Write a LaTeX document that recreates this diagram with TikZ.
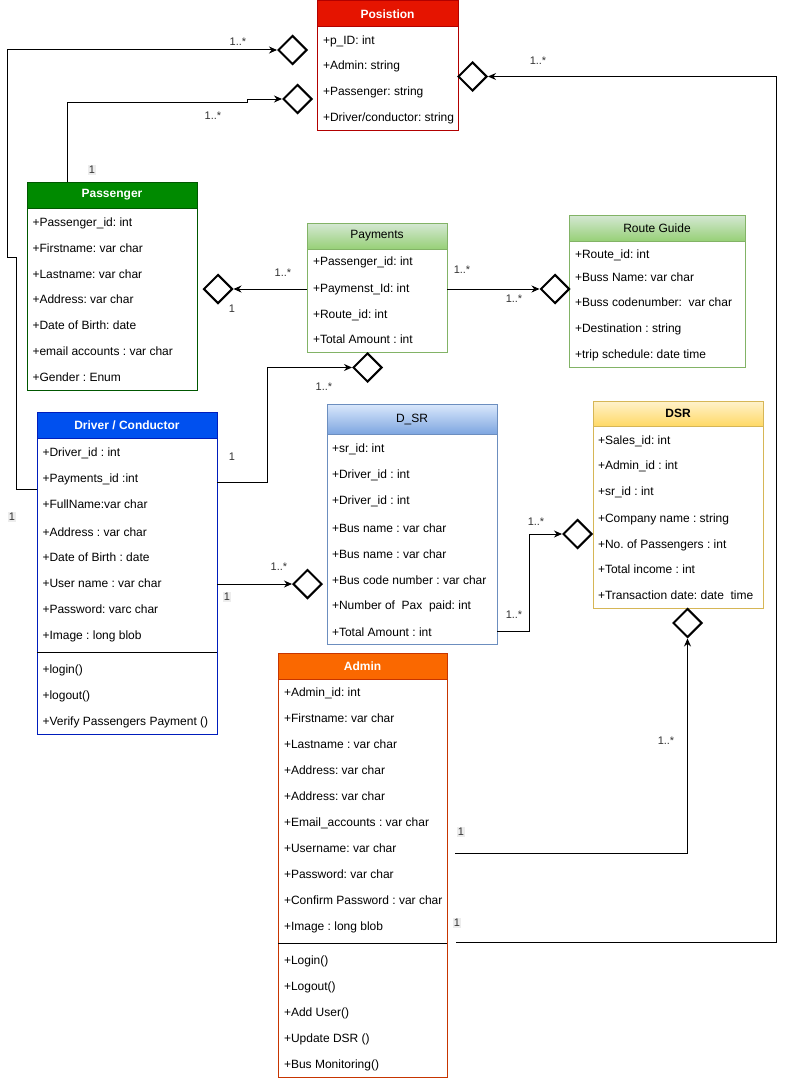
\documentclass[tikz,border=0pt]{standalone}
\usepackage{fontspec}
\setmainfont{Liberation Sans}
\usetikzlibrary{arrows.meta,shapes.geometric}

\definecolor{posfill}{HTML}{E51400}\definecolor{posline}{HTML}{B20000}
\definecolor{pasfill}{HTML}{008A00}\definecolor{pasline}{HTML}{005700}
\definecolor{drvfill}{HTML}{0050EF}\definecolor{drvline}{HTML}{001DBC}
\definecolor{admfill}{HTML}{FA6800}\definecolor{admline}{HTML}{C73500}
\definecolor{grntop}{HTML}{D5E8D4}\definecolor{grnbot}{HTML}{97D077}\definecolor{grnline}{HTML}{82B366}
\definecolor{blutop}{HTML}{DAE8FC}\definecolor{blubot}{HTML}{7EA6E0}\definecolor{bluline}{HTML}{6C8EBF}
\definecolor{yeltop}{HTML}{FFF2CC}\definecolor{yelbot}{HTML}{FFD966}\definecolor{yelline}{HTML}{D6B656}
\definecolor{lbl}{HTML}{333333}\definecolor{lblbg}{HTML}{EDEDED}

\tikzset{
  classbody/.style={draw, fill=white, line width=1pt, inner sep=0pt, outer sep=0pt, anchor=north west},
  classhead/.style={draw, line width=1pt, inner sep=0pt, outer sep=0pt, anchor=north west,
    font=\fontsize{12}{14}\selectfont},
  hsolid/.style={fill=#1, text=white, font=\fontsize{12}{14}\selectfont\bfseries},
  hshade/.style 2 args={top color=#1, bottom color=#2, text=black},
  attr/.style={anchor=west, inner sep=0pt, outer sep=0pt, text height=8.6pt, text depth=0pt,
    font=\fontsize{12}{14}\selectfont},
  agg/.style={diamond, draw, line width=2pt, fill=white, minimum width=29pt, minimum height=29pt,
    inner sep=0pt, aspect=1},
  conn/.style={line width=1pt, -{Stealth[length=8pt,width=7pt]}},
  link/.style={line width=1pt},
  mult/.style={text=lbl, font=\fontsize{11}{13}\selectfont, inner sep=1pt},
  multbg/.style={mult, fill=lblbg},
}

% class box: name, x1, y1, x2, y2, header bottom, outline colour, header style, title
\newcommand\umlclass[9]{%
  \node[classbody, draw=#7, minimum width={#4-#2}, minimum height={#5-#3}] (#1) at (#2,#3) {};
  \node[classhead, draw=#7, #8, minimum width={#4-#2}, minimum height={#6-#3}] (#1-head) at (#2,#3) {#9};
}
% attribute / method rows: name prefix, text x, list of y/text
\newcommand\umlrows[3]{%
  \foreach \yy/\txt [count=\k] in {#3} {\node[attr] (#1-r\k) at (#2,\yy) {\txt};}
}

\begin{document}
\frenchspacing
\begin{tikzpicture}[x=1pt,y=-1pt]
\useasboundingbox (0,0) rectangle (786,1081);
\fill[white] (0,0) rectangle (786,1081);

% ---------- classes ----------
\umlclass{pos}{317}{1}{458}{130}{27}{posline}{hsolid=posfill}{Posistion}
\umlrows{pos}{323}{40/{+p\_ID: int}, 65.5/{+Admin: string}, 91/{+Passenger: string},
  117/{+Driver/conductor: string}}

\umlclass{pas}{27}{182}{197}{390}{208}{pasline}{hsolid=pasfill}{Passenger}
\umlrows{pas}{32.5}{222/{+Passenger\_id: int}, 248/{+Firstname: var char}, 274/{+Lastname: var char},
  299.5/{+Address: var char}, 325/{+Date of Birth: date}, 351.5/{+email accounts : var char},
  377/{+Gender : Enum}}

\umlclass{pay}{307}{223}{447}{352}{249}{grnline}{hshade={grntop}{grnbot}}{Payments}
\umlrows{pay}{313}{261/{+Passenger\_id: int}, 288/{+Paymenst\_Id: int}, 314/{+Route\_id: int},
  339.5/{+Total Amount : int}}

\umlclass{rou}{569}{215}{745}{367}{241}{grnline}{hshade={grntop}{grnbot}}{Route Guide}
\umlrows{rou}{575}{254.5/{+Route\_id: int}, 277/{+Buss Name: var char},
  302/{+Buss codenumber:~ var char}, 328/{+Destination : string}, 354/{+trip schedule: date time}}

\umlclass{drv}{37}{412}{217}{734}{438}{drvline}{hsolid=drvfill}{Driver / Conductor}
\umlrows{drv}{42.5}{452/{+Driver\_id : int}, 478/{+Payments\_id :int}, 504/{+FullName:var char},
  532/{+Address : var char}, 557.5/{+Date of Birth : date}, 583.5/{+User name : var char},
  609.5/{+Password: varc char}, 635.5/{+Image : long blob}, 669/{+login()}, 695/{+logout()},
  721.5/{+Verify Passengers Payment ()}}
\draw[link] (drv.west |- 0,652) -- (drv.east |- 0,652);

\umlclass{dsl}{327}{404}{497}{644}{434}{bluline}{hshade={blutop}{blubot}}{D\_SR}
\umlrows{dsl}{332}{448/{+sr\_id: int}, 474/{+Driver\_id : int}, 500/{+Driver\_id : int},
  528/{+Bus name : var char}, 554/{+Bus name : var char}, 580/{+Bus code number : var char},
  605.5/{+Number of~ Pax~ paid: int}, 632/{+Total Amount : int}}

\umlclass{dsr}{593}{401}{763}{608}{426}{yelline}{hshade={yeltop}{yelbot}, font=\fontsize{12}{14}\selectfont\bfseries}{DSR}
\umlrows{dsr}{598}{440/{+Sales\_id: int}, 465.5/{+Admin\_id : int}, 491.5/{+sr\_id : int},
  518/{+Company name : string}, 544/{+No. of Passengers : int}, 569.5/{+Total income : int},
  595.5/{+Transaction date: date~ time}}

\umlclass{adm}{278}{653}{447}{1077}{679}{admline}{hsolid=admfill}{Admin}
\umlrows{adm}{284}{692/{+Admin\_id: int}, 718/{+Firstname: var char}, 744/{+Lastname : var char},
  770/{+Address: var char}, 796/{+Address: var char}, 822/{+Email\_accounts : var char},
  848/{+Username: var char}, 874/{+Password: var char}, 900/{+Confirm Password : var char},
  926.5/{+Image : long blob}, 960.5/{+Login()}, 986.5/{+Logout()}, 1012/{+Add User()},
  1038/{+Update DSR ()}, 1064/{+Bus Monitoring()}}
\draw[link] (adm.west |- 0,943) -- (adm.east |- 0,943);

% ---------- aggregation diamonds ----------
\node[agg] (dP1) at (292.5,50) {};
\node[agg] (dP2) at (297.5,99) {};
\node[agg] (dP3) at (472.5,76.5) {};
\node[agg] (dPas) at (218,289) {};
\node[agg] (dRou) at (555,289) {};
\node[agg] (dPay) at (367.5,367.5) {};
\node[agg] (dDsl) at (307.5,584) {};
\node[agg] (dDsr) at (577.5,534) {};
\node[agg] (dDsr3) at (687.5,623) {};

% ---------- connectors ----------
\coordinate (admOut1) at (456,942);
\coordinate (admOut2) at (455,853);

\draw[conn] (drv.west |- 0,489) -| (16,257) -| (7,50) -- (dP1.west);
\draw[conn] (pas.north -| 67,0) |- (247,102) |- (dP2.west);
\draw[conn] (admOut1) -| (776,76.5) -- (dP3.east);
\draw[conn] (pay.west |- dPas) -- (dPas.east);
\draw[conn] (pay.east |- dRou) -- (dRou.west);
\draw[conn] (drv.east |- 0,482) -| (267,367.5) -- (dPay.west);
\draw[conn] (drv.east |- dDsl) -- (dDsl.west);
\draw[conn] (dsl.east |- 0,631) -| (529,534) -- (dDsr.west);
\draw[conn] (admOut2) -| (dDsr3.south);

% ---------- multiplicities ----------
\node[mult] (m1) at (238,42) {1..*};
\node[mult] (m2) at (213,116) {1..*};
\node[multbg] (m3) at (92,170) {1};
\node[mult] (m4) at (538,61) {1..*};
\node[mult] (m5) at (283,273) {1..*};
\node[mult] (m6) at (232,309) {1};
\node[mult] (m7) at (462,270) {1..*};
\node[mult] (m8) at (514,299) {1..*};
\node[mult] (m9) at (324,387) {1..*};
\node[mult] (m10) at (232,457) {1};
\node[multbg] (m11) at (12,517) {1};
\node[mult] (m12) at (279,567) {1..*};
\node[multbg] (m13) at (227,597) {1};
\node[mult] (m14) at (536,522) {1..*};
\node[mult] (m15) at (514,615) {1..*};
\node[mult] (m16) at (666,741) {1..*};
\node[multbg] (m17) at (461,832) {1};
\node[multbg] (m18) at (457,923) {1};
\end{tikzpicture}
\end{document}
